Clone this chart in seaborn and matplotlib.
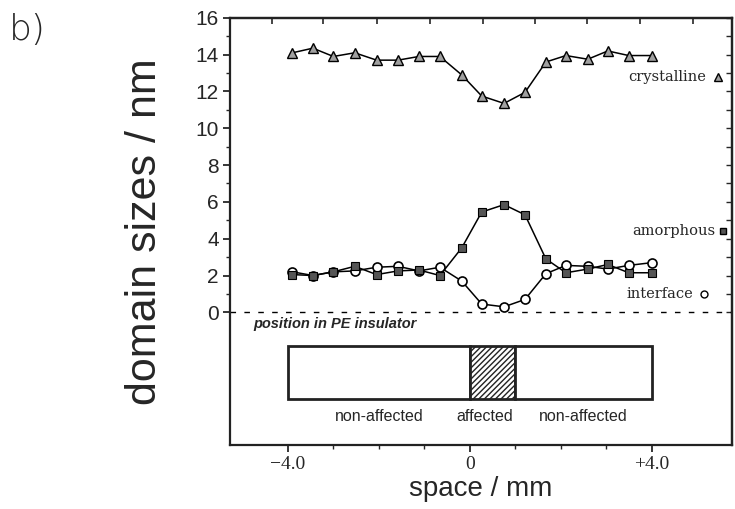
import numpy as np
import pandas as pd
import seaborn as sns
import matplotlib.pyplot as plt
from matplotlib.patches import Rectangle

# positions along the insulator (mm)
space = [-3.9, -3.45, -3.0, -2.53, -2.05, -1.58, -1.12, -0.66, -0.18,
         0.26, 0.75, 1.21, 1.67, 2.11, 2.59, 3.03, 3.49, 4.0]
crystalline = [14.1, 14.35, 13.9, 14.1, 13.7, 13.7, 13.9, 13.9, 12.9,
               11.75, 11.35, 11.95, 13.6, 13.95, 13.75, 14.2, 13.95, 13.95]
amorphous = [2.05, 2.0, 2.2, 2.5, 2.05, 2.25, 2.3, 2.0, 3.5,
             5.45, 5.85, 5.3, 2.9, 2.15, 2.35, 2.6, 2.15, 2.15]
interface = [2.2, 2.0, 2.2, 2.25, 2.45, 2.5, 2.25, 2.45, 1.7,
             0.45, 0.3, 0.7, 2.1, 2.55, 2.5, 2.35, 2.55, 2.7]

zone_labels = ["non-affected", "affected", "non-affected"]
zone_edges = [-4.0, 0.0, 1.0, 4.0]
top_ticks = [-4.35, -3.23, -2.04, -0.88, 0.29, 1.43, 2.57, 3.74, 4.9]

df = pd.DataFrame({"space": space, "crystalline": crystalline,
                   "amorphous": amorphous, "interface": interface})

sns.set_style("ticks")
plt.rcParams['font.family'] = ['Liberation Sans', 'DejaVu Sans']

fig = plt.figure(figsize=(7.35, 5.09), dpi=100)
ax = fig.add_axes([0.313, 0.126, 0.683, 0.839])

# the three curves
sns.lineplot(data=df, x="space", y="crystalline", ax=ax, color="black", lw=1.1,
             marker="^", markersize=7.5, markerfacecolor="#a0a0a0",
             markeredgecolor="black", markeredgewidth=1.0)
sns.lineplot(data=df, x="space", y="interface", ax=ax, color="black", lw=1.1,
             marker="o", markersize=6.5, markerfacecolor="white",
             markeredgecolor="black", markeredgewidth=1.2)
sns.lineplot(data=df, x="space", y="amorphous", ax=ax, color="black", lw=1.1,
             marker="s", markersize=5.5, markerfacecolor="#555555",
             markeredgecolor="black", markeredgewidth=0.8)

ax.axhline(0, color="black", lw=1.0, ls=(0, (4, 6)))

# series labels on the right
lab_font = dict(family="DejaVu Serif", fontsize=10.5, ha="right", va="center")
ax.text(5.2, 12.8, "crystalline", **lab_font)
ax.plot([5.45], [12.8], marker="^", ms=6, mfc="#a0a0a0", mec="black", ls="none")
ax.text(5.4, 4.4, "amorphous", **lab_font)
ax.plot([5.55], [4.4], marker="s", ms=5, mfc="#555555", mec="black", ls="none")
ax.text(4.9, 1.0, "interface", **lab_font)
ax.plot([5.15], [1.0], marker="o", ms=5, mfc="white", mec="black", ls="none")

# insulator sketch
ax.text(-4.75, -0.65, "position in PE insulator", fontsize=10.5,
        fontweight="bold", fontstyle="italic", va="center", ha="left")
box_bottom, box_top = -4.73, -1.85
for i in range(3):
    hatched = zone_labels[i] == "affected"
    ax.add_patch(Rectangle((zone_edges[i], box_bottom),
                           zone_edges[i + 1] - zone_edges[i], box_top - box_bottom,
                           facecolor="white", edgecolor="#222222", lw=2.0,
                           hatch="//////" if hatched else None, zorder=3))
    ax.text((zone_edges[i] + zone_edges[i + 1]) / 2 - 0.17 * hatched,
            -5.65, zone_labels[i], ha="center", va="center", fontsize=11.5)

ax.set_xlim(-5.27, 5.76)
ax.set_ylim(-7.2, 16)
ax.set_yticks(range(0, 17, 2))
ax.set_yticks(range(1, 16, 2), minor=True)
ax.set_yticklabels([str(v) for v in range(0, 17, 2)], fontsize=15)
ax.set_xticks([-4, 0, 4])
ax.set_xticklabels(["\u22124.0", "0", "+4.0"], fontsize=14, family="Liberation Serif")
ax.set_xticks([-3, -2, -1, 1, 2, 3], minor=True)
ax.tick_params(axis="both", which="major", direction="out", length=5, width=1.3, pad=3)
ax.tick_params(axis="both", which="minor", direction="out", length=3, width=1.0)

top = ax.secondary_xaxis("top")
top.set_xticks(top_ticks)
top.set_xticklabels([])
top.tick_params(direction="in", length=4, width=1.2)
right = ax.secondary_yaxis("right")
right.set_yticks(range(0, 17))
right.set_yticklabels([])
right.tick_params(direction="in", length=4, width=1.0)
for a in (ax, top, right):
    for s in a.spines.values():
        s.set_linewidth(1.6)
        s.set_color("#222222")

ax.set_xlabel("space / mm", fontsize=20, labelpad=2)
ax.set_ylabel("domain sizes / nm", fontsize=31, labelpad=22)
fig.text(0.012, 0.975, "b)", fontsize=26, fontweight="light", va="top",
         family="DejaVu Sans")

fig.savefig("out.png", dpi=100)
